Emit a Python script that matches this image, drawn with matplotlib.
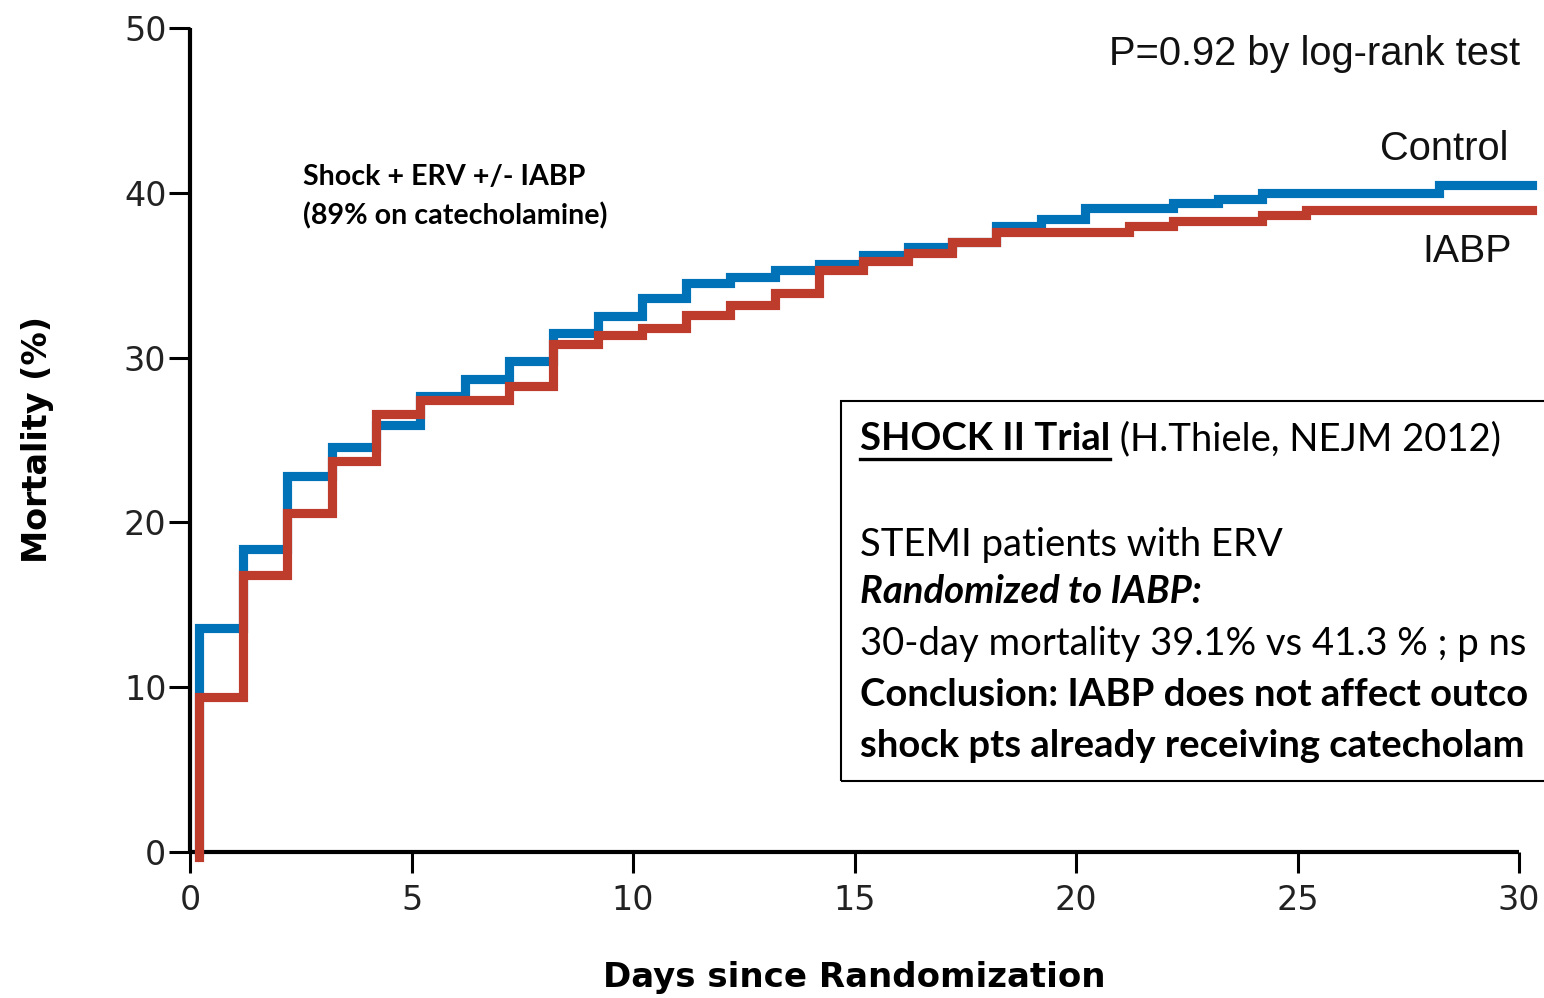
import matplotlib
matplotlib.use("Agg")
import matplotlib.pyplot as plt
from matplotlib.patches import Rectangle
from matplotlib.lines import Line2D

# ---- data ----
control_days = [0.2, 0.2, 1.2, 2.2, 3.2, 4.2, 5.2, 6.2, 7.2, 8.2, 9.2, 10.2, 11.2, 12.2,
                13.2, 14.2, 15.2, 16.2, 17.2, 18.2, 19.2, 20.2, 22.2, 23.2, 24.2, 28.2, 30.3]
control_mort = [0, 13.6, 18.4, 22.8, 24.6, 25.9, 27.7, 28.7, 29.8, 31.5, 32.5, 33.6, 34.5, 34.9,
                35.3, 35.7, 36.2, 36.7, 37.0, 38.0, 38.4, 39.1, 39.4, 39.6, 40.0, 40.5, 40.5]

iabp_days = [0.2, 0.2, 1.2, 2.2, 3.2, 4.2, 5.2, 7.2, 8.2, 9.2, 10.2, 11.2, 12.2, 13.2,
             14.2, 15.2, 16.2, 17.2, 18.2, 21.2, 22.2, 24.2, 25.2, 30.3]
iabp_mort = [-0.3, 9.4, 16.8, 20.6, 23.7, 26.6, 27.4, 28.3, 30.8, 31.4, 31.8, 32.6, 33.2, 33.9,
             35.3, 35.85, 36.35, 37.0, 37.6, 38.0, 38.3, 38.65, 38.95, 38.95]

x_ticks = [0, 5, 10, 15, 20, 25, 30]
y_ticks = [0, 10, 20, 30, 40, 50]

BLUE = "#0072B7"
RED = "#BE3C2B"

W, H = 1544, 998
fig = plt.figure(figsize=(W / 100, H / 100), dpi=100)
fig.patch.set_facecolor("white")


def fx(px):
    return px / W


def fy(py):
    return 1 - py / H


ax = fig.add_axes([fx(190), fy(852), (1519 - 190) / W, (852 - 28) / H])
ax.set_xlim(0, 30)
ax.set_ylim(0, 50)
for s in ["top", "right"]:
    ax.spines[s].set_visible(False)
for s in ["left", "bottom"]:
    ax.spines[s].set_linewidth(3)
    ax.spines[s].set_capstyle("butt")

ax.set_xticks(x_ticks)
ax.set_yticks(y_ticks)
ax.tick_params(axis="both", direction="out", length=15, width=2.2, labelsize=24,
               colors="black", labelcolor="#222222")
ax.tick_params(axis="y", pad=2)
ax.tick_params(axis="x", pad=8)

ax.step(control_days, control_mort, where="post", color=BLUE, lw=6.6,
        clip_on=False, solid_joinstyle="miter", zorder=3)
ax.step(iabp_days, iabp_mort, where="post", color=RED, lw=6.6,
        clip_on=False, solid_joinstyle="miter", zorder=4)

ax.set_xlabel("Days since Randomization", fontsize=24.5, fontweight="bold", labelpad=32)
ax.set_ylabel("Mortality (%)", fontsize=24, fontweight="bold", labelpad=50)

# labels at the top right
TR = 28.7
fig.text(fx(1520), fy(65), "P=0.92 by log-rank test", ha="right", va="baseline",
         fontsize=TR, family="Liberation Sans", color="#111111")
fig.text(fx(1508), fy(160), "Control", ha="right", va="baseline",
         fontsize=TR, family="Liberation Sans", color="#111111")
fig.text(fx(1512), fy(262), "IABP", ha="right", va="baseline",
         fontsize=28.3, family="Liberation Sans", color="#111111")

# annotation
fig.text(fx(303), fy(185), "Shock + ERV +/- IABP", ha="left", va="baseline",
         fontsize=20.6, fontweight="bold", family="Lato")
fig.text(fx(303), fy(224), "(89% on catecholamine)", ha="left", va="baseline",
         fontsize=20.6, fontweight="bold", family="Lato")

# box
box = Rectangle((fx(841), fy(781)), (1600 - 841) / W, (781 - 401) / H,
                transform=fig.transFigure, fill=False, ec="black", lw=1.5, clip_on=False)
fig.add_artist(box)

renderer = fig.canvas.get_renderer()
FS = 27.5
t1 = fig.text(fx(860), fy(450), "SHOCK II Trial", ha="left", va="baseline",
              fontsize=FS, fontweight="bold", family="Lato")
bb = t1.get_window_extent(renderer)
fig.add_artist(Line2D([bb.x0 / W, bb.x1 / W], [fy(459), fy(459)],
                      transform=fig.transFigure, color="black", lw=2.4))
fig.text(bb.x1 / W, fy(450), " (H.Thiele, NEJM 2012)", ha="left", va="baseline",
         fontsize=FS, family="Lato")

fig.text(fx(860), fy(556), "STEMI patients with ERV", ha="left", va="baseline",
         fontsize=FS, family="Lato")
fig.text(fx(860), fy(603), "Randomized to IABP:", ha="left", va="baseline",
         fontsize=FS, fontweight="bold", style="italic", family="Lato")
fig.text(fx(860), fy(655), "30-day mortality 39.1% vs 41.3 % ; p ns", ha="left",
         va="baseline", fontsize=FS, family="Lato")
# the reference shows these two lines cut at the right edge of the picture
fig.text(fx(860), fy(706), "Conclusion: IABP does not affect outco", ha="left",
         va="baseline", fontsize=FS, fontweight="bold", family="Lato")
fig.text(fx(860), fy(757), "shock pts already receiving catecholam", ha="left",
         va="baseline", fontsize=FS, fontweight="bold", family="Lato")

fig.savefig("out.png", dpi=100)
